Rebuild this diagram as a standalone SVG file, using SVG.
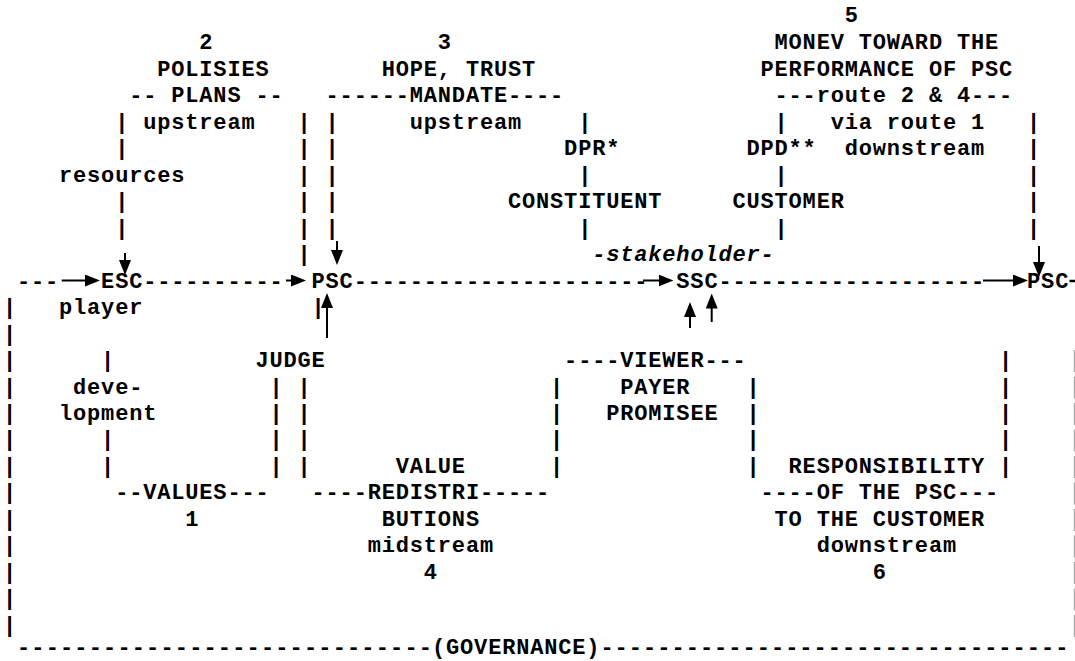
<svg xmlns="http://www.w3.org/2000/svg" width="1075" height="661" viewBox="0 0 1075 661">
<style>
text{font-family:"Liberation Mono","Courier New",monospace;font-size:22px;font-weight:bold;letter-spacing:0.83px;white-space:pre;fill:#000}
.it{font-style:italic}
.ln{stroke:#000;stroke-width:2;fill:none}
.edge{stroke:#aaa;stroke-width:1.2;fill:none}
</style>
<defs>
<marker id="ah" markerUnits="userSpaceOnUse" markerWidth="15" markerHeight="12" refX="5" refY="6" orient="auto">
<path d="M0,0 L15,6 L0,12 z" fill="#000"/>
</marker>
</defs>
<rect width="1075" height="661" fill="#fff"/>

<g id="ascii-lines">
<!-- line 3 -->
<text x="129.17" y="102.24">-- PLANS --</text>
<text x="325.59" y="102.24">------MANDATE----</text>
<text x="774.55" y="102.24">---route 2 &amp; 4---</text>
<!-- line 4 -->
<text x="115.14" y="128.72">|</text><text x="297.53" y="128.72">|</text><text x="325.59" y="128.72">|</text><text x="578.13" y="128.72">|</text><text x="774.55" y="128.72">|</text><text x="1027.09" y="128.72">|</text>
<!-- line 5 -->
<text x="115.14" y="155.2">|</text><text x="297.53" y="155.2">|</text><text x="325.59" y="155.2">|</text><text x="1027.09" y="155.2">|</text>
<!-- line 6 -->
<text x="297.53" y="181.68">|</text><text x="325.59" y="181.68">|</text><text x="578.13" y="181.68">|</text><text x="774.55" y="181.68">|</text><text x="1027.09" y="181.68">|</text>
<!-- line 7 -->
<text x="115.14" y="208.16">|</text><text x="297.53" y="208.16">|</text><text x="325.59" y="208.16">|</text><text x="1027.09" y="208.16">|</text>
<!-- line 8 -->
<text x="115.14" y="234.64">|</text><text x="297.53" y="234.64">|</text><text x="325.59" y="234.64">|</text><text x="578.13" y="234.64">|</text><text x="774.55" y="234.64">|</text><text x="1027.09" y="234.64">|</text>
<!-- line 9 -->
<text x="297.53" y="261.12">|</text>
<!-- line 10 -->
<text x="16.93" y="287.6">---</text>
<text x="143.2" y="287.6">----------</text>
<text x="353.65" y="287.6">---------------------</text>
<text x="718.43" y="287.6">-------------------</text>
<!-- line 11 -->
<text x="2.9" y="314.08">|</text><text x="311.56" y="314.08">|</text>
<!-- line 12 -->
<text x="2.9" y="340.56">|</text>
<!-- line 13 -->
<text x="2.9" y="367.04">|</text><text x="101.11" y="367.04">|</text><text x="564.1" y="367.04">----</text><text x="704.4" y="367.04">---</text><text x="999.03" y="367.04">|</text>
<!-- line 14 -->
<text x="2.9" y="393.52">|</text><text x="269.47" y="393.52">|</text><text x="297.53" y="393.52">|</text><text x="550.07" y="393.52">|</text><text x="746.49" y="393.52">|</text><text x="999.03" y="393.52">|</text>
<!-- line 15 -->
<text x="2.9" y="420">|</text><text x="269.47" y="420">|</text><text x="297.53" y="420">|</text><text x="550.07" y="420">|</text><text x="746.49" y="420">|</text><text x="999.03" y="420">|</text>
<!-- line 16 -->
<text x="2.9" y="446.48">|</text><text x="101.11" y="446.48">|</text><text x="269.47" y="446.48">|</text><text x="297.53" y="446.48">|</text><text x="550.07" y="446.48">|</text><text x="746.49" y="446.48">|</text><text x="999.03" y="446.48">|</text>
<!-- line 17 -->
<text x="2.9" y="472.96">|</text><text x="101.11" y="472.96">|</text><text x="269.47" y="472.96">|</text><text x="297.53" y="472.96">|</text><text x="550.07" y="472.96">|</text><text x="746.49" y="472.96">|</text><text x="999.03" y="472.96">|</text>
<!-- lines 18-23 -->
<text x="2.9" y="499.44">|</text>
<text x="2.9" y="525.92">|</text>
<text x="2.9" y="552.4">|</text>
<text x="2.9" y="578.88">|</text>
<text x="2.9" y="605.36">|</text>
<text x="2.9" y="631.84">|</text>
<!-- line 24 -->
<text x="16.93" y="654" textLength="415" lengthAdjust="spacing" style="letter-spacing:0">-----------------------------</text>
<text x="600.4" y="654" textLength="468" lengthAdjust="spacing" style="letter-spacing:0">---------------------------------</text>
<!-- right edge (cut-off column) -->
<line x1="1069.5" y1="281" x2="1075" y2="281" stroke="#000" stroke-width="2.5"/>
<path class="edge" d="M1074.4,350 V372 M1074.4,376.5 V398.5 M1074.4,403 V425 M1074.4,429.5 V451.5 M1074.4,456 V478 M1074.4,482.5 V504.5 M1074.4,509 V531 M1074.4,535.5 V557.5 M1074.4,562 V584 M1074.4,588.5 V610.5 M1074.4,615 V637"/>
</g>

<g id="connectors">
<line class="ln" x1="61.7" y1="280.5" x2="90" y2="280.5" marker-end="url(#ah)"/>
<line class="ln" x1="125" y1="253" x2="125" y2="265" marker-end="url(#ah)"/>
<line class="ln" x1="286" y1="280.5" x2="296" y2="280.5" marker-end="url(#ah)"/>
<line class="ln" x1="337" y1="241" x2="337" y2="255" marker-end="url(#ah)"/>
<line class="ln" x1="327" y1="338" x2="327" y2="303" marker-end="url(#ah)"/>
<line class="ln" x1="643" y1="280.5" x2="663.5" y2="280.5" marker-end="url(#ah)"/>
<line class="ln" x1="690" y1="328" x2="690" y2="312" marker-end="url(#ah)"/>
<line class="ln" x1="711.7" y1="322" x2="711.7" y2="303.5" marker-end="url(#ah)"/>
<line class="ln" x1="983" y1="280.5" x2="1018" y2="280.5" marker-end="url(#ah)"/>
<line class="ln" x1="1039" y1="246" x2="1039" y2="267" marker-end="url(#ah)"/>
</g>

<g id="node-esc"><text x="101.11" y="287.6">ESC</text></g>
<g id="node-psc"><text x="311.56" y="287.6">PSC</text></g>
<g id="node-ssc"><text x="676.34" y="287.6">SSC</text></g>
<g id="node-psc-right"><text x="1027.09" y="287.6">PSC</text></g>

<g id="label-policies">
<text x="199.32" y="49.28">2</text>
<text x="157.23" y="75.76">POLISIES</text>
<text x="143.2" y="128.72">upstream</text>
</g>
<g id="label-mandate">
<text x="437.83" y="49.28">3</text>
<text x="381.71" y="75.76">HOPE, TRUST</text>
<text x="409.77" y="128.72">upstream</text>
</g>
<g id="label-monev">
<text x="844.7" y="21.5">5</text>
<text x="774.55" y="49.28">MONEV TOWARD THE</text>
<text x="760.52" y="75.76">PERFORMANCE OF PSC</text>
<text x="830.67" y="128.72">via route 1</text>
<text x="844.7" y="155.2">downstream</text>
</g>
<g id="label-dpr"><text x="564.1" y="155.2">DPR*</text><text x="507.98" y="208.16">CONSTITUENT</text></g>
<g id="label-dpd"><text x="746.49" y="155.2">DPD**</text><text x="732.46" y="208.16">CUSTOMER</text></g>
<g id="label-resources"><text x="59.02" y="181.68">resources</text></g>
<g id="label-stakeholder"><text class="it" x="592.16" y="261.12">-stakeholder-</text></g>
<g id="label-player"><text x="59.02" y="314.08">player</text></g>
<g id="label-judge"><text x="255.44" y="367.04">JUDGE</text></g>
<g id="label-viewer">
<text x="620.22" y="367.04">VIEWER</text>
<text x="620.22" y="393.52">PAYER</text>
<text x="606.19" y="420">PROMISEE</text>
</g>
<g id="label-development"><text x="73.05" y="393.52">deve-</text><text x="59.02" y="420">lopment</text></g>
<g id="label-values">
<text x="115.14" y="499.44">--VALUES---</text>
<text x="185.29" y="525.92">1</text>
</g>
<g id="label-redistributions">
<text x="395.74" y="472.96">VALUE</text>
<text x="311.56" y="499.44">----REDISTRI-----</text>
<text x="381.71" y="525.92">BUTIONS</text>
<text x="367.68" y="552.4">midstream</text>
<text x="423.8" y="578.88">4</text>
</g>
<g id="label-responsibility">
<text x="788.58" y="472.96">RESPONSIBILITY</text>
<text x="760.52" y="499.44">----OF THE PSC---</text>
<text x="774.55" y="525.92">TO THE CUSTOMER</text>
<text x="816.64" y="552.4">downstream</text>
<text x="872.76" y="578.88">6</text>
</g>
<g id="label-governance"><text x="432" y="654">(GOVERNANCE)</text></g>
</svg>
